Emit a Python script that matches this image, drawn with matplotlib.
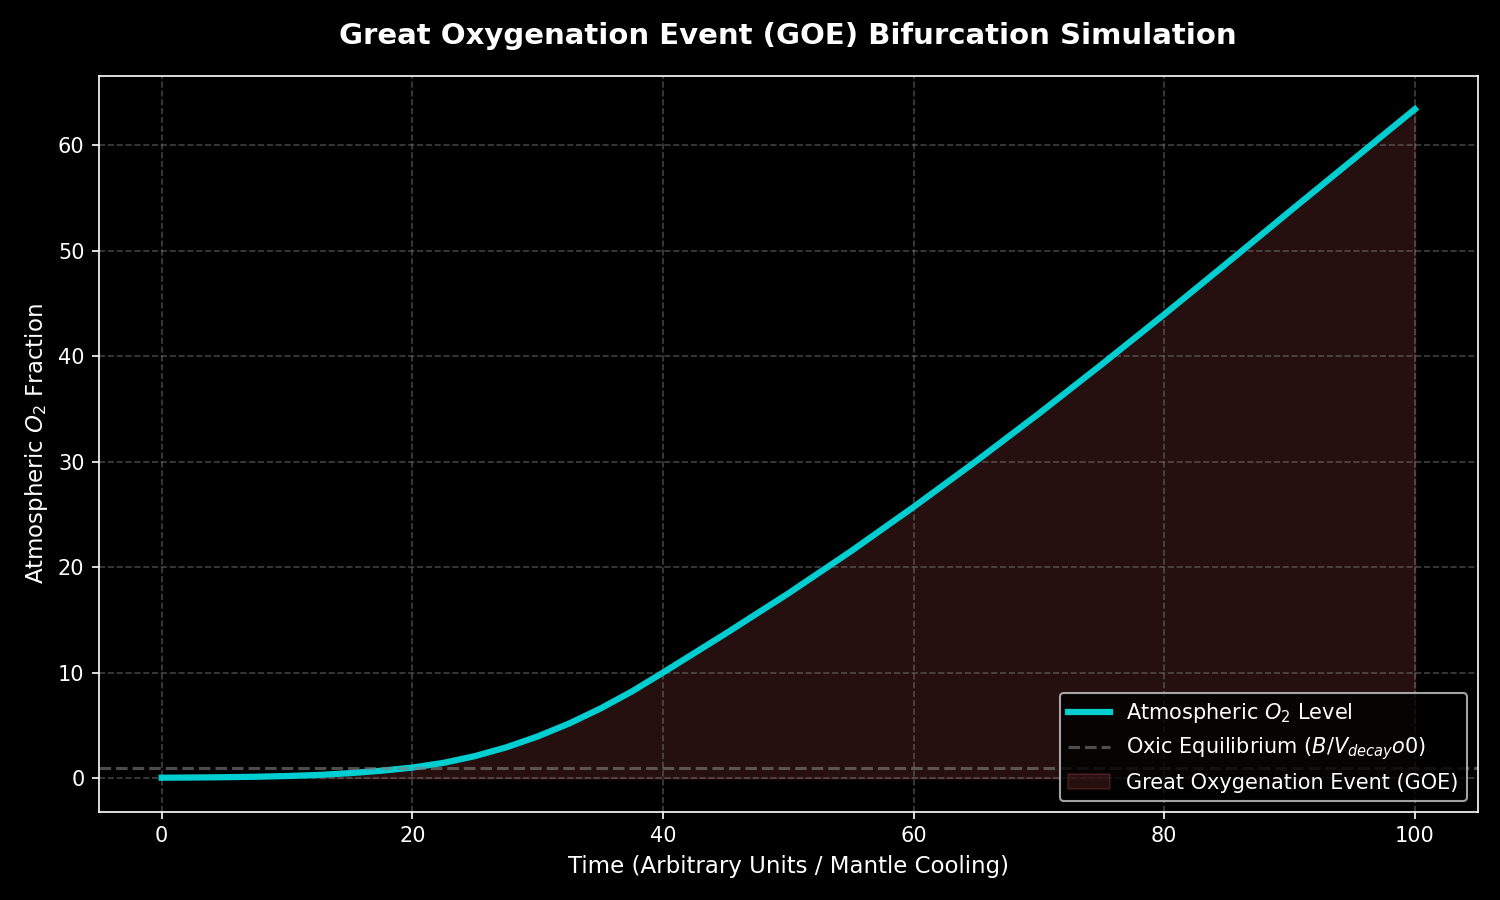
import matplotlib
matplotlib.use("Agg")
import matplotlib.pyplot as plt
import numpy as np

# values
time = [0, 2.5, 5, 7.5, 10, 12.5, 15, 17.5, 20, 22.5, 25, 27.5, 30, 32.5, 35, 37.5,
        40, 45, 50, 55, 60, 65, 70, 75, 80, 85, 90, 95, 100]
o2_level = [0.04, 0.06, 0.09, 0.13, 0.2, 0.3, 0.47, 0.7, 1.0, 1.45, 2.09, 2.92, 3.95,
            5.17, 6.59, 8.2, 10.0, 13.7, 17.5, 21.5, 25.7, 30.05, 34.55, 39.2, 43.95,
            48.8, 53.7, 58.55, 63.4]
oxic_equilibrium = 1.0
goe_onset = 12.5


def main() -> None:
    plt.style.use("dark_background")
    t = np.array(time)
    o2 = np.array(o2_level)

    fig, ax = plt.subplots(figsize=(10, 6), dpi=150)

    ax.plot(t, o2, color="#00CED1", linewidth=3, label=r"Atmospheric $O_2$ Level")
    ax.axhline(oxic_equilibrium, color="gray", linestyle="--", linewidth=1.5, alpha=0.6,
               label=r"Oxic Equilibrium ($B/V_{decay}o0$)")
    ax.fill_between(t, 0, o2, where=t >= goe_onset, color="#ff6b6b", alpha=0.15,
                    label="Great Oxygenation Event (GOE)")

    ax.set_title("Great Oxygenation Event (GOE) Bifurcation Simulation",
                 fontsize=14, fontweight="bold", pad=15)
    ax.set_xlabel("Time (Arbitrary Units / Mantle Cooling)", fontsize=11)
    ax.set_ylabel(r"Atmospheric $O_2$ Fraction", fontsize=11)
    ax.grid(True, linestyle="--", color="gray", alpha=0.5)
    ax.legend(loc="lower right")

    fig.tight_layout()
    fig.savefig("out.png", dpi=150)
    plt.close(fig)


if __name__ == "__main__":
    main()
